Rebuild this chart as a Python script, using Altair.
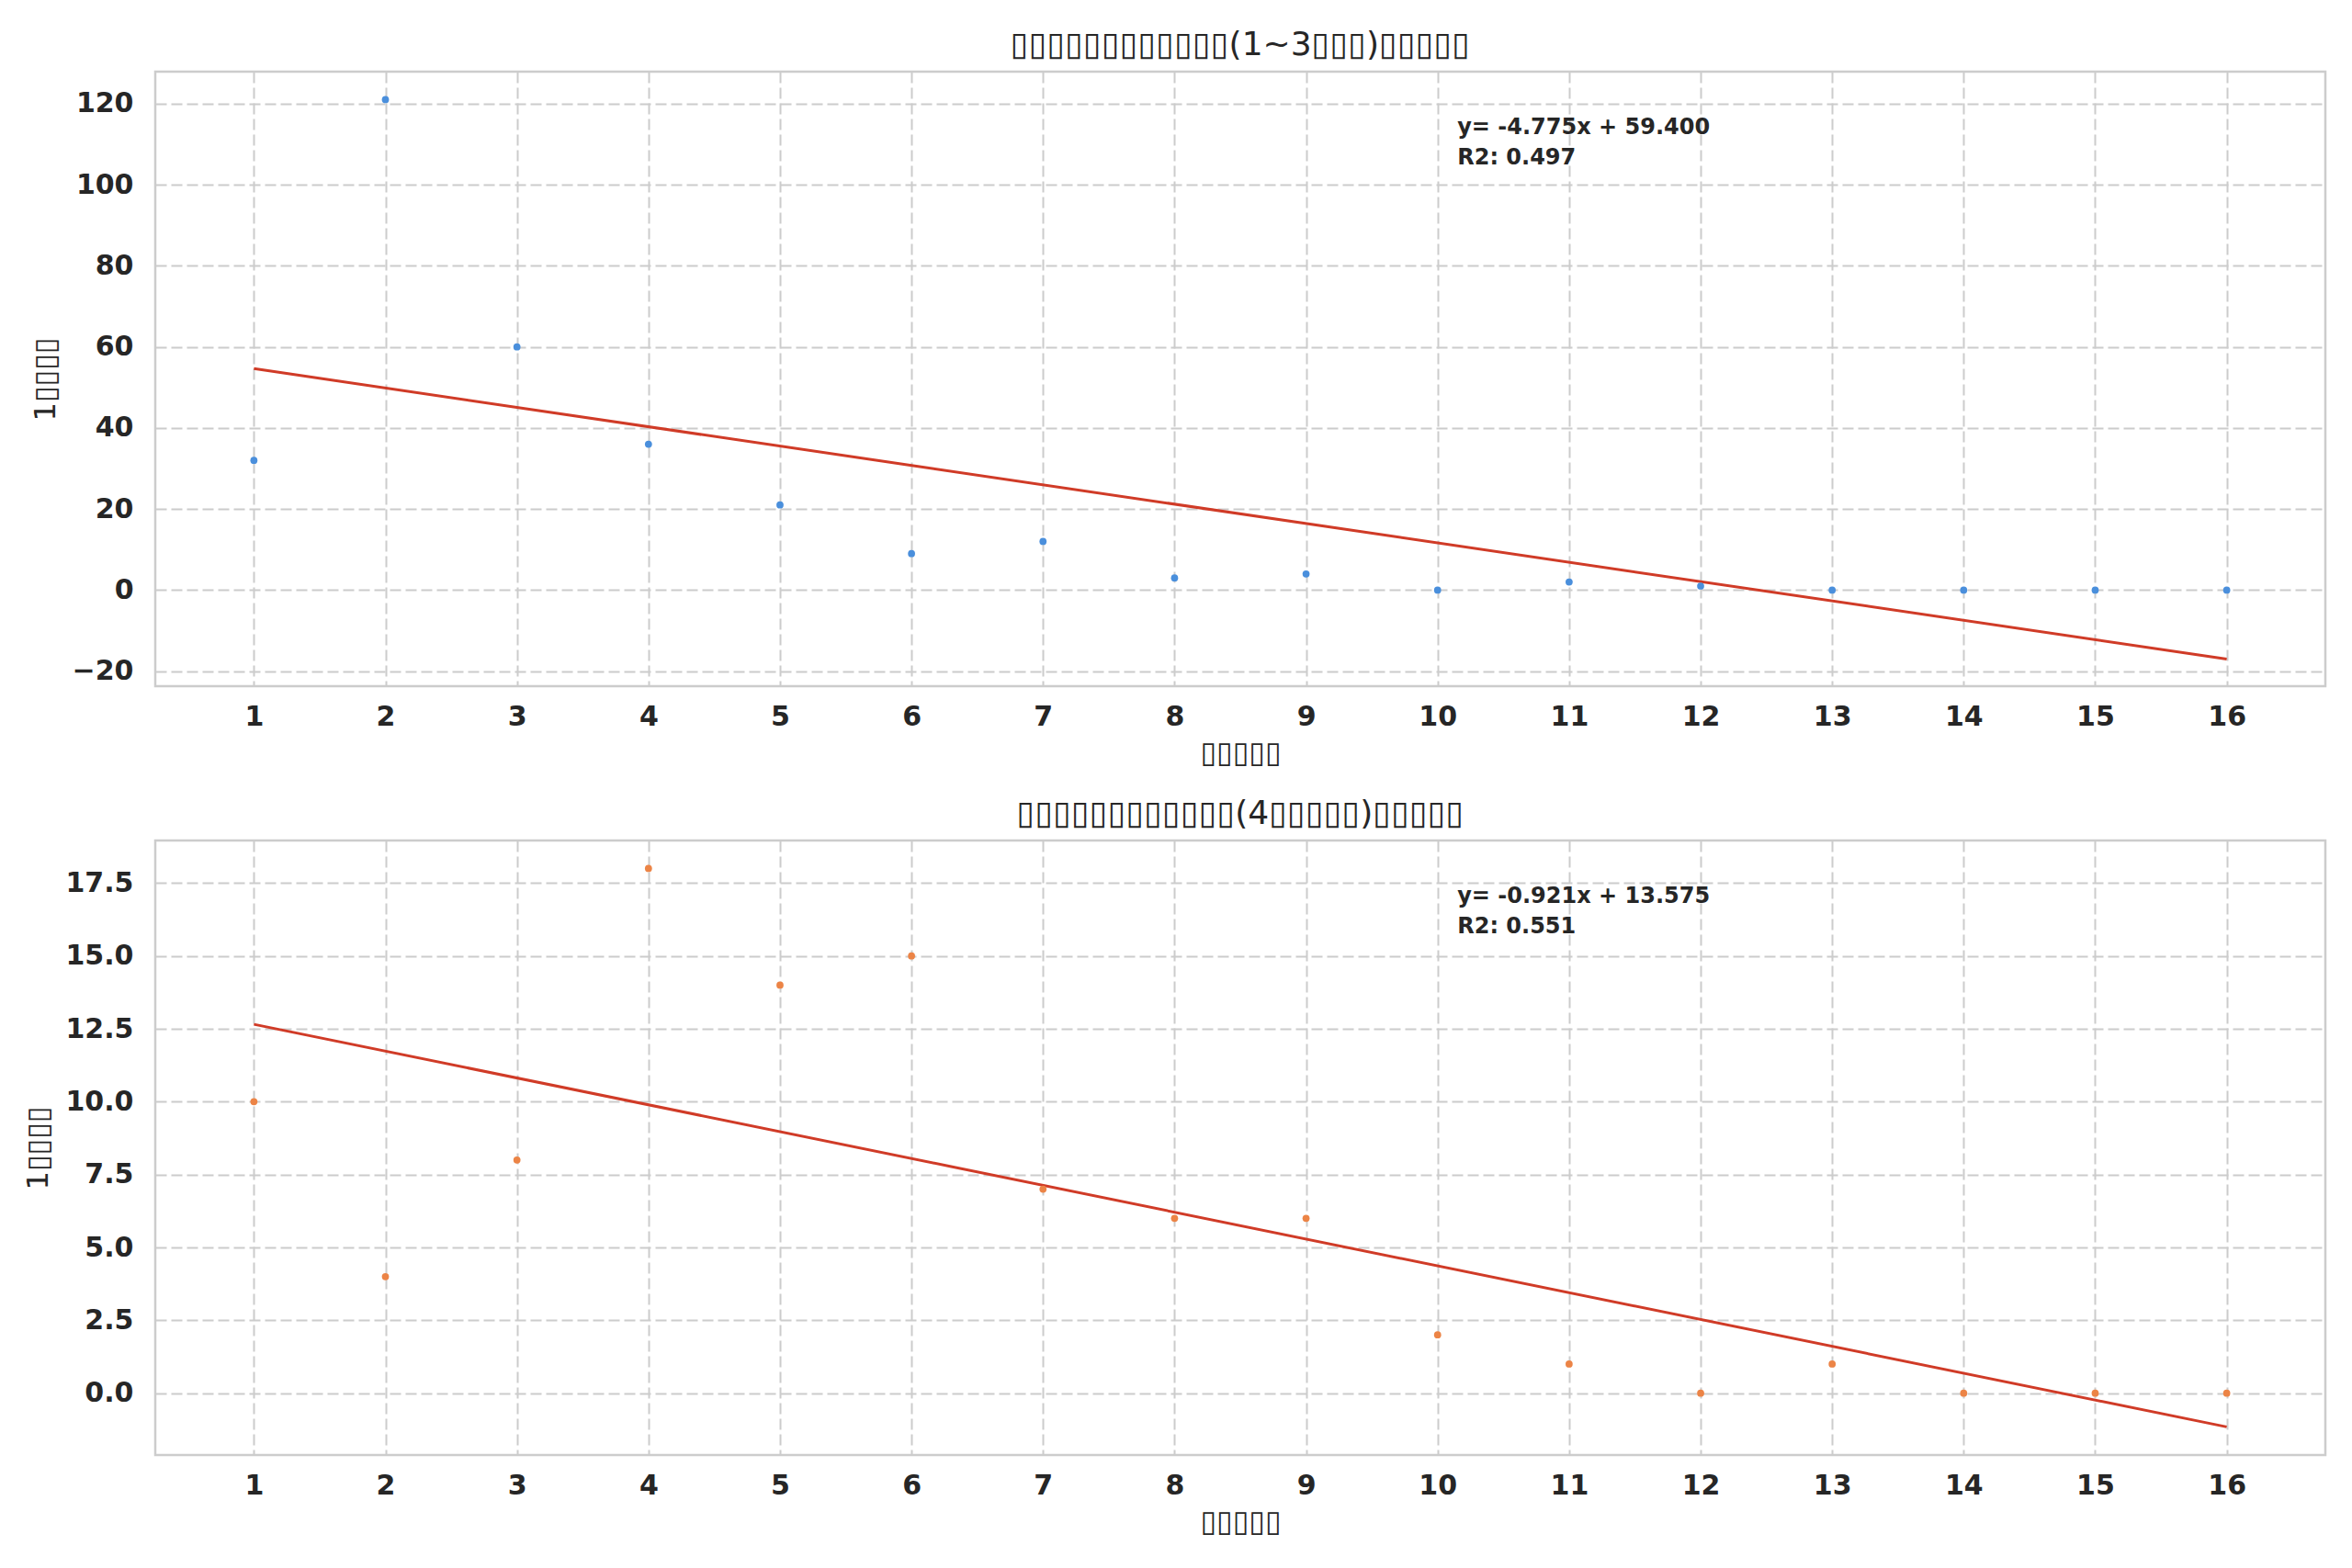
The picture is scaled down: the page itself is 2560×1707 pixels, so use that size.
import altair as alt
import pandas as pd

# ---- data ----
x_vals = list(range(1, 17))
top_counts = [32, 121, 60, 36, 21, 9, 12, 3, 4, 0, 2, 1, 0, 0, 0, 0]
bottom_counts = [10, 4, 8, 18, 14, 15, 7, 6, 6, 2, 1, 0, 1, 0, 0, 0]

top_title = "▯▯▯▯▯▯▯▯▯▯▯▯(1~3▯▯▯)▯▯▯▯▯"
bottom_title = "▯▯▯▯▯▯▯▯▯▯▯▯(4▯▯▯▯▯)▯▯▯▯▯"
x_title = "▯▯▯▯▯"
y_title = "1▯▯▯▯"

top_eq = "y= -4.775x + 59.400\nR2: 0.497"
bottom_eq = "y= -0.921x + 13.575\nR2: 0.551"

top_yticks = [-20, 0, 20, 40, 60, 80, 100, 120]
bottom_yticks = [0.0, 2.5, 5.0, 7.5, 10.0, 12.5, 15.0, 17.5]
top_ydomain = [-23.7, 127.9]
bottom_ydomain = [-2.12, 18.96]
x_domain = [0.25, 16.75]

W, H = 2362, 669
FONT = "DejaVu Sans"
TXT = "#262626"
GRID = "#cccccc"


def panel(counts, color, title, ydomain, yticks, yfmt, eq):
    df = pd.DataFrame({"x": x_vals, "y": counts})
    xenc = alt.X(
        "x:Q",
        scale=alt.Scale(domain=x_domain, nice=False, zero=False),
        axis=alt.Axis(values=x_vals, format="d", title=x_title),
    )
    yenc = alt.Y(
        "y:Q",
        scale=alt.Scale(domain=ydomain, nice=False, zero=False),
        axis=alt.Axis(values=yticks, format=yfmt, title=y_title),
    )
    base = alt.Chart(df)
    pts = base.mark_circle(size=60, color=color, opacity=1).encode(x=xenc, y=yenc)
    line = (
        base.transform_regression("x", "y", extent=[1, 16])
        .mark_line(color="#d03b27", strokeWidth=3)
        .encode(x=alt.X("x:Q"), y=alt.Y("y:Q"))
    )
    txt = (
        alt.Chart(pd.DataFrame({"t": [eq]}))
        .mark_text(
            align="left",
            baseline="top",
            font=FONT,
            fontSize=24,
            fontWeight="bold",
            color=TXT,
            lineBreak="\n",
            lineHeight=33,
        )
        .encode(x=alt.value(0.6 * W), y=alt.value(49), text="t:N")
    )
    return alt.layer(line, pts, txt).properties(
        width=W,
        height=H,
        title=alt.TitleParams(title, fontSize=36, fontWeight="normal", font=FONT, color=TXT, offset=10),
    )


top = panel(top_counts, "#4a8fdc", top_title, top_ydomain, top_yticks, "d", top_eq)
bottom = panel(bottom_counts, "#ec8446", bottom_title, bottom_ydomain, bottom_yticks, ".1f", bottom_eq)

chart = (
    alt.vconcat(top, bottom, spacing=29)
    .properties(padding={"left": 16, "top": 21, "right": 10, "bottom": 10}, background="white")
    .configure_view(stroke=GRID, strokeWidth=2.5)
    .configure_axis(
        labelFont=FONT,
        labelFontSize=30,
        labelFontWeight="bold",
        labelColor=TXT,
        titleFont=FONT,
        titleFontSize=32,
        titleFontWeight="normal",
        titleColor=TXT,
        ticks=False,
        domain=False,
        grid=True,
        gridColor=GRID,
        gridDash=[12, 5],
        gridWidth=2,
    )
    .configure_axisX(labelPadding=18, titlePadding=9)
    .configure_axisY(labelPadding=24, titlePadding=12)
)

chart.save("out.html", embed_options={"renderer": "svg", "actions": False})
